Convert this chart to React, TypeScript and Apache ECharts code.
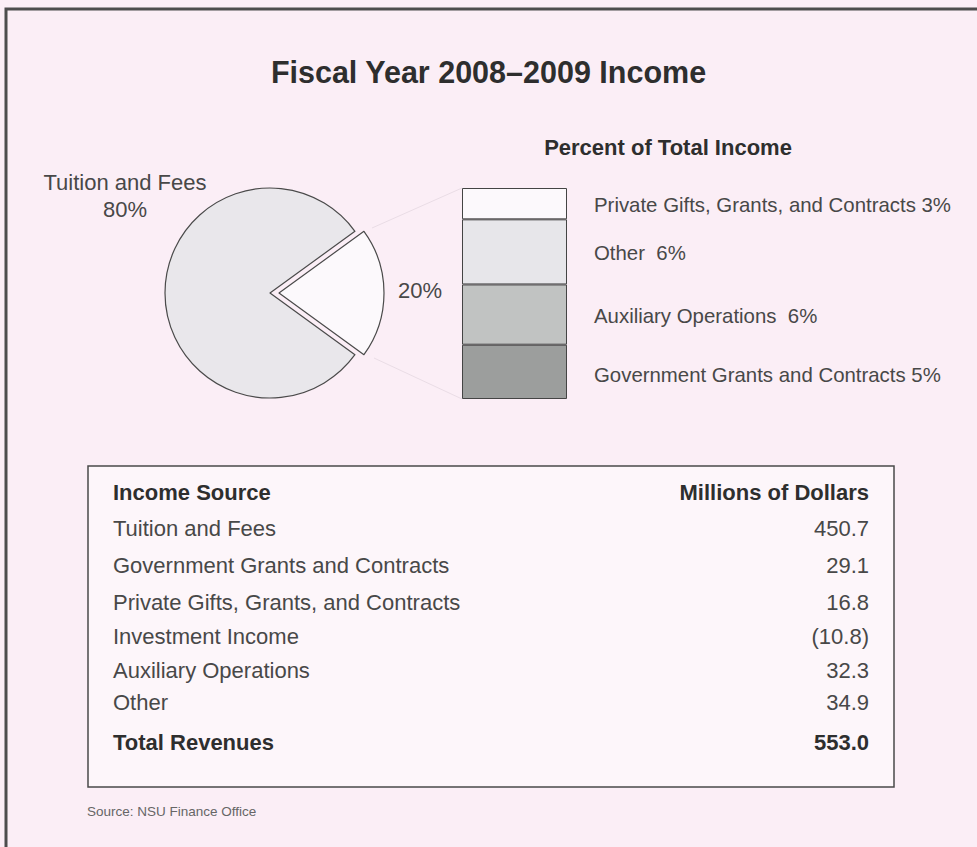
import React, { useEffect, useRef } from "react";
import * as echarts from "echarts";

// ---------- data ----------
const titleText = "Fiscal Year 2008–2009 Income";
const pieNames = ["Other sources", "Tuition and Fees"];
const piePercents = [20, 80];

// stacked bar (bottom to top), values in millions of dollars
const barNames = [
  "Government Grants and Contracts",
  "Auxiliary Operations",
  "Other",
  "Private Gifts, Grants, and Contracts",
];
const barValues = [29.1, 32.3, 34.9, 16.8];
const barLabelPercents = [5, 6, 6, 3];
const barLabelSeparators = [" ", "  ", "  ", " "];
const barColors = ["#9c9e9d", "#c1c3c2", "#e7e6ea", "#fcf9fc"];

// table
const tableSources = [
  "Tuition and Fees",
  "Government Grants and Contracts",
  "Private Gifts, Grants, and Contracts",
  "Investment Income",
  "Auxiliary Operations",
  "Other",
];
const tableValues = [450.7, 29.1, 16.8, -10.8, 32.3, 34.9];
const totalRevenue = 553.0;
const sourceNote = "Source: NSU Finance Office";

const FONT = "'Liberation Sans', Arial, Helvetica, sans-serif";
const TEXT = "#484848";
const DARK = "#2e2e2e";

function fmt(v: number) {
  return v < 0 ? `(${Math.abs(v).toFixed(1)})` : v.toFixed(1);
}

export default function App() {
  const ref = useRef<HTMLDivElement>(null);
  useEffect(() => {
    if (!ref.current) return;
    const chart = echarts.init(ref.current, undefined, { renderer: "svg" });

    const barTotal = barValues.reduce((a, b) => a + b, 0);
    const rowYs = [528, 565, 602, 636, 670, 702];

    const tableGraphics: any[] = [
      {
        type: "rect",
        shape: { x: 88, y: 466, width: 806, height: 321 },
        style: { fill: "#fdf6fa", stroke: "#4a4a4a", lineWidth: 1.5 },
      },
      {
        type: "text",
        x: 113,
        y: 492,
        style: { text: "Income Source", font: `bold 22px ${FONT}`, fill: DARK, textVerticalAlign: "middle" },
      },
      {
        type: "text",
        x: 869,
        y: 492,
        style: { text: "Millions of Dollars", font: `bold 22px ${FONT}`, fill: DARK, textAlign: "right", textVerticalAlign: "middle" },
      },
      {
        type: "text",
        x: 113,
        y: 742,
        style: { text: "Total Revenues", font: `bold 22px ${FONT}`, fill: DARK, textVerticalAlign: "middle" },
      },
      {
        type: "text",
        x: 869,
        y: 742,
        style: { text: totalRevenue.toFixed(1), font: `bold 22px ${FONT}`, fill: DARK, textAlign: "right", textVerticalAlign: "middle" },
      },
    ];
    tableSources.forEach((s, i) => {
      tableGraphics.push({
        type: "text",
        x: 113,
        y: rowYs[i],
        style: { text: s, font: `22px ${FONT}`, fill: TEXT, textVerticalAlign: "middle" },
      });
      tableGraphics.push({
        type: "text",
        x: 869,
        y: rowYs[i],
        style: { text: fmt(tableValues[i]), font: `22px ${FONT}`, fill: TEXT, textAlign: "right", textVerticalAlign: "middle" },
      });
    });

    const option: any = {
      animation: false,
      backgroundColor: "#fbeef6",
      title: {
        text: titleText,
        left: "center",
        top: 51,
        textStyle: { fontFamily: FONT, fontSize: 30.5, fontWeight: "bold", color: DARK },
      },
      grid: { left: 462, top: 188, width: 105, height: 211 },
      xAxis: {
        type: "category",
        data: ["income"],
        show: false,
      },
      yAxis: {
        type: "value",
        min: 0,
        max: barTotal,
        show: false,
      },
      graphic: [
        {
          type: "rect",
          shape: { x: 6, y: 9, width: 1000, height: 900 },
          style: { fill: "none", stroke: "#4d4d4d", lineWidth: 3 },
          z: 10,
        },
        {
          type: "line",
          shape: { x1: 372, y1: 228, x2: 462, y2: 188 },
          style: { stroke: "#eadde6", lineWidth: 1 },
        },
        {
          type: "line",
          shape: { x1: 374, y1: 358, x2: 462, y2: 399 },
          style: { stroke: "#eadde6", lineWidth: 1 },
        },
        {
          type: "text",
          x: 668,
          y: 147,
          style: { text: "Percent of Total Income", font: `bold 22px ${FONT}`, fill: DARK, textAlign: "center", textVerticalAlign: "middle" },
        },
        {
          type: "text",
          x: 125,
          y: 182,
          style: { text: pieNames[1], font: `22px ${FONT}`, fill: TEXT, textAlign: "center", textVerticalAlign: "middle" },
        },
        {
          type: "text",
          x: 125,
          y: 209,
          style: { text: `${piePercents[1]}%`, font: `22px ${FONT}`, fill: TEXT, textAlign: "center", textVerticalAlign: "middle" },
        },
        {
          type: "text",
          x: 398,
          y: 290,
          style: { text: `${piePercents[0]}%`, font: `22px ${FONT}`, fill: TEXT, textAlign: "left", textVerticalAlign: "middle" },
        },
        {
          type: "text",
          x: 87,
          y: 811,
          style: { text: sourceNote, font: `13.5px ${FONT}`, fill: "#666", textVerticalAlign: "middle" },
        },
        ...tableGraphics,
      ],
      series: [
        {
          type: "pie",
          center: [270, 293],
          radius: 105,
          startAngle: 36,
          clockwise: true,
          selectedMode: "single",
          selectedOffset: 9,
          label: { show: false },
          labelLine: { show: false },
          emphasis: { disabled: true },
          data: [
            {
              name: pieNames[0],
              value: piePercents[0],
              selected: true,
              itemStyle: { color: "#fcf9fc", borderColor: "#4a4a4a", borderWidth: 1.2 },
            },
            {
              name: pieNames[1],
              value: piePercents[1],
              itemStyle: { color: "#e9e7eb", borderColor: "#4a4a4a", borderWidth: 1.2 },
            },
          ],
        },
        ...barNames.map((name, i) => ({
          type: "bar",
          name,
          stack: "pct",
          barWidth: "100%",
          data: [barValues[i]],
          itemStyle: { color: barColors[i], borderColor: "#444", borderWidth: 1 },
          emphasis: { disabled: true },
          label: {
            show: true,
            position: "right",
            distance: 27,
            offset: i === 0 ? [0, 3] : [0, 1],
            fontFamily: FONT,
            fontSize: 20.4,
            color: TEXT,
            formatter: () => `${name}${barLabelSeparators[i]}${barLabelPercents[i]}%`,
          },
        })),
      ],
    };
    chart.setOption(option);
    return () => chart.dispose();
  }, []);

  return (
    <div
      ref={ref}
      style={{ position: "absolute", left: 0, top: 0, width: 977, height: 847 }}
    />
  );
}
